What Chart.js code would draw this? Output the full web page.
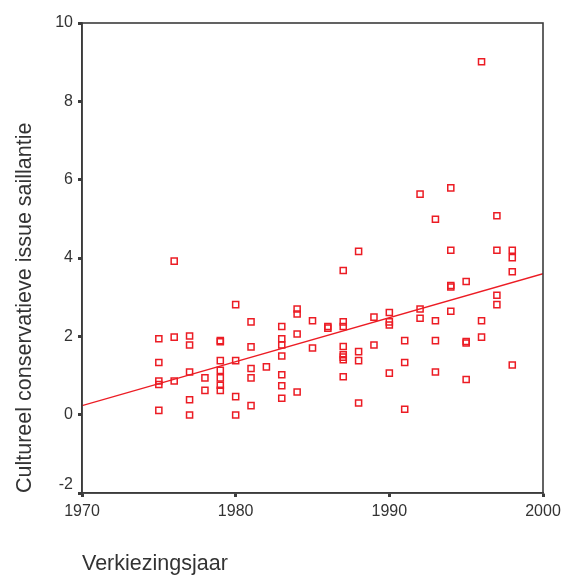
<!DOCTYPE html>
<html>
<head>
<meta charset="utf-8">
<script src="https://cdn.jsdelivr.net/npm/chart.js@4.4.1/dist/chart.umd.min.js"></script>
<style>
html,body{margin:0;padding:0;background:#fff;}
#wrap{width:568px;height:577px;}
</style>
</head>
<body>
<div id="wrap"><canvas id="c" width="568" height="577"></canvas></div>
<script>
// Election years (x) and issue salience values (y)
const years = [
  1975,1975,1975,1975,1975,
  1976,1976,1976,
  1977,1977,1977,1977,1977,
  1978,1978,
  1979,1979,1979,1979,1979,1979,1979,
  1980,1980,1980,1980,
  1981,1981,1981,1981,1981,
  1982,
  1983,1983,1983,1983,1983,1983,1983,
  1984,1984,1984,1984,
  1985,1985,
  1986,1986,
  1987,1987,1987,1987,1987,1987,1987,1987,
  1988,1988,1988,1988,
  1989,1989,
  1990,1990,1990,1990,
  1991,1991,1991,
  1992,1992,1992,
  1993,1993,1993,1993,
  1994,1994,1994,1994,1994,
  1995,1995,1995,1995,
  1996,1996,1996,
  1997,1997,1997,1997,
  1998,1998,1998,1998
];
const salience = [
  1.94,1.33,0.86,0.77,0.11,
  3.92,1.98,0.86,
  2.01,1.78,1.09,0.38,-0.01,
  0.94,0.62,
  1.89,1.86,1.38,1.13,0.94,0.75,0.62,
  2.81,1.38,0.46,-0.01,
  2.37,1.73,1.18,0.94,0.23,
  1.22,
  2.25,1.94,1.78,1.50,1.02,0.74,0.42,
  2.70,2.57,2.06,0.58,
  2.40,1.70,
  2.25,2.21,
  3.68,2.37,2.25,1.74,1.53,1.47,1.40,0.97,
  4.17,1.61,1.38,0.30,
  2.49,1.78,
  2.61,2.37,2.29,1.06,
  1.89,1.33,0.14,
  5.63,2.70,2.46,
  4.99,2.40,1.89,1.09,
  5.79,4.20,3.30,3.26,2.64,
  3.40,1.87,1.83,0.90,
  9.01,2.40,1.98,
  5.08,4.20,3.05,2.81,
  4.20,4.01,3.65,1.27
];
// Fit line endpoints (as drawn in the reference)
const fitX = [1970, 2000];
const fitY = [0.23, 3.60];
// Tick labels
const xTicks = [1970, 1980, 1990, 2000];
const yTicks = [-2, 0, 2, 4, 6, 8, 10];

const RED = '#ec1c24';
const AXIS = '#3c3c3c';
const FONT = '"Liberation Sans", Arial, sans-serif';

const pts = years.map((x, i) => ({x: x, y: salience[i]}));
const fit = fitX.map((x, i) => ({x: x, y: fitY[i]}));

const frame = {
  id: 'frame',
  afterDatasetsDraw(chart) {
    const a = chart.chartArea;
    const ctx = chart.ctx;
    ctx.save();
    ctx.strokeStyle = AXIS;
    ctx.lineWidth = 1.6;
    ctx.strokeRect(a.left, a.top, a.right - a.left, a.bottom - a.top);
    ctx.restore();
  }
};

new Chart(document.getElementById('c'), {
  type: 'scatter',
  data: {
    datasets: [
      {
        data: pts,
        pointStyle: 'rect',
        pointRadius: 4.3,
        pointHoverRadius: 4.3,
        backgroundColor: 'rgba(0,0,0,0)',
        borderColor: RED,
        borderWidth: 1.5,
        order: 1
      },
      {
        type: 'line',
        data: fit,
        borderColor: RED,
        borderWidth: 1.4,
        pointRadius: 0,
        fill: false,
        tension: 0,
        order: 2
      }
    ]
  },
  options: {
    responsive: false,
    animation: false,
    events: [],
    layout: {padding: {top: 23, right: 25, left: 0, bottom: 0}},
    plugins: {legend: {display: false}, tooltip: {enabled: false}},
    scales: {
      x: {
        type: 'linear',
        min: 1970,
        max: 2000,
        afterBuildTicks(s) { s.ticks = xTicks.map(v => ({value: v})); },
        afterFit(s) { s.height = 84; },
        grid: {drawOnChartArea: false, tickLength: 4, tickWidth: 3, tickColor: AXIS},
        border: {display: true, color: AXIS, width: 1.6},
        ticks: {
          color: '#333',
          padding: 5,
          maxRotation: 0,
          font: {family: FONT, size: 16},
          callback: v => String(v)
        },
        title: {
          display: true,
          text: 'Verkiezingsjaar',
          align: 'start',
          color: '#333',
          padding: {top: 0, bottom: 0},
          font: {family: FONT, size: 21.5}
        }
      },
      y: {
        type: 'linear',
        min: -2,
        max: 10,
        afterBuildTicks(s) { s.ticks = yTicks.map(v => ({value: v})); },
        afterFit(s) { s.width = 82; },
        grid: {drawOnChartArea: false, tickLength: 4, tickWidth: 3, tickColor: AXIS},
        border: {display: true, color: AXIS, width: 1.6},
        ticks: {
          color: '#333',
          padding: 5,
          font: ctx => ({family: FONT, size: 16, lineHeight: (ctx.tick && ctx.tick.value === yTicks[0]) ? 1.0 : 1.2}),
          callback: v => (v === yTicks[0] ? [String(v), ''] : String(v))
        },
        title: {
          display: true,
          text: 'Cultureel conservatieve issue saillantie',
          align: 'start',
          color: '#333',
          padding: {top: 12, bottom: 12},
          font: {family: FONT, size: 21.5}
        }
      }
    }
  },
  plugins: [frame]
});
</script>
</body>
</html>
